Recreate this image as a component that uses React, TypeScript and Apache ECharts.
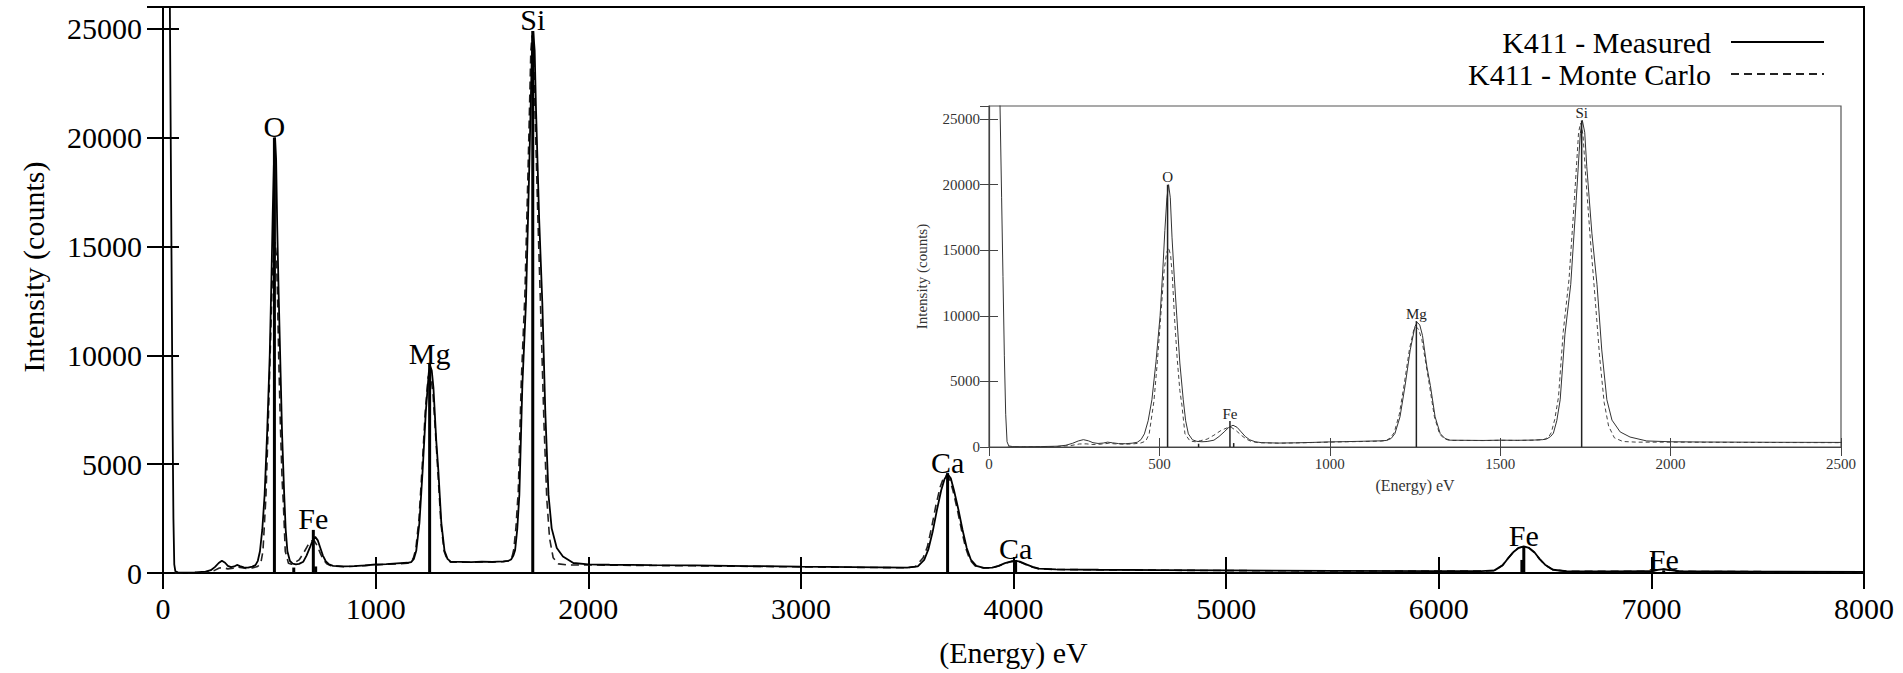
import React, { useEffect, useRef } from 'react';
import * as echarts from 'echarts';

// Measured spectrum: [energy eV, counts]
const measured: [number, number][] = [
  [0, 90000], [15, 60000], [25, 38000], [32, 26500], [37, 19000], [41, 13000], [45, 7000], [49, 2500], [53, 400], [58, 80],
  [70, 30], [100, 20], [150, 30], [200, 60], [225, 130], [245, 280], [262, 460], [277, 560], [292, 470], [305, 330],
  [320, 270], [335, 300], [348, 370], [362, 320], [380, 260], [400, 250], [420, 290], [435, 360], [446, 560], [456, 1000],
  [467, 2000], [478, 3600], [490, 6500], [502, 10000], [510, 13500], [516, 16500], [522, 19000], [527, 20000], [532, 19000], [537, 16000],
  [544, 12800], [551, 10000], [560, 6400], [570, 3600], [577, 2000], [585, 1000], [597, 550], [610, 430], [625, 400], [640, 420],
  [660, 520], [675, 800], [690, 1150], [703, 1480], [716, 1660], [728, 1500], [740, 1150], [752, 800], [765, 550], [781, 400],
  [800, 330], [850, 300], [900, 320], [950, 350], [1000, 390], [1050, 410], [1100, 440], [1150, 470], [1167, 500], [1180, 650],
  [1191, 1020], [1206, 2300], [1221, 4700], [1236, 7400], [1250, 9200], [1257, 9500], [1264, 9300], [1272, 8500], [1285, 6100], [1295, 4700],
  [1309, 2300], [1324, 1020], [1338, 650], [1353, 520], [1400, 510], [1450, 500], [1500, 520], [1550, 510], [1600, 530], [1625, 560],
  [1637, 620], [1648, 800], [1656, 1050], [1666, 2000], [1676, 3600], [1690, 8600], [1707, 12400], [1723, 18800], [1735, 23900], [1741, 24900],
  [1748, 24000], [1754, 21400], [1769, 16300], [1784, 12400], [1798, 7400], [1813, 3600], [1828, 2050], [1852, 1150], [1881, 760], [1930, 460],
  [2000, 400], [2100, 380], [2200, 370], [2300, 360], [2500, 350], [2750, 320], [3000, 290], [3250, 270], [3500, 250], [3550, 300],
  [3580, 600], [3600, 1100], [3620, 1900], [3640, 2900], [3660, 3800], [3675, 4300], [3690, 4550], [3705, 4350], [3720, 3800], [3740, 2950],
  [3760, 2000], [3780, 1150], [3800, 600], [3825, 330], [3860, 240], [3900, 250], [3930, 330], [3960, 450], [3990, 540], [4010, 560],
  [4030, 520], [4060, 400], [4090, 280], [4120, 200], [4200, 170], [4400, 150], [4700, 130], [5000, 120], [5500, 100], [6000, 90],
  [6200, 90], [6262, 120], [6300, 350], [6320, 600], [6350, 950], [6375, 1150], [6400, 1220], [6425, 1150], [6450, 950], [6474, 650],
  [6500, 380], [6537, 150], [6600, 80], [6800, 70], [7000, 80], [7020, 130], [7058, 180], [7090, 130], [7130, 80], [7500, 60], [8000, 50],
];

// Monte Carlo spectrum: [energy eV, counts]
const monteCarlo: [number, number][] = [
  [55, 0], [100, 10], [150, 20], [200, 40], [240, 110], [265, 230], [285, 240], [305, 190], [330, 220], [350, 280],
  [370, 240], [395, 210], [420, 230], [445, 300], [460, 450], [470, 1000], [484, 3500], [494, 6500], [504, 10000], [514, 13500],
  [521, 14800], [527, 15200], [533, 14600], [538, 13000], [544, 10000], [552, 6800], [560, 4300], [566, 3200], [575, 1000], [590, 450],
  [605, 400], [620, 480], [640, 600], [660, 900], [680, 1250], [700, 1480], [712, 1480], [725, 1250], [740, 900], [755, 600],
  [770, 420], [790, 330], [850, 290], [900, 310], [950, 340], [1000, 370], [1050, 400], [1100, 420], [1150, 450], [1165, 490],
  [1178, 700], [1189, 1100], [1204, 2500], [1219, 4900], [1234, 7500], [1247, 9000], [1253, 9150], [1260, 9000], [1270, 8200], [1283, 6200],
  [1293, 4600], [1307, 2300], [1322, 1000], [1336, 620], [1352, 500], [1400, 500], [1450, 490], [1500, 510], [1550, 500], [1600, 520],
  [1625, 560], [1632, 600], [1643, 800], [1650, 1100], [1660, 2100], [1671, 3800], [1685, 8800], [1702, 12800], [1718, 19000], [1730, 24000],
  [1736, 24700], [1743, 23800], [1750, 21000], [1764, 16000], [1778, 11500], [1792, 6800], [1805, 3400], [1818, 1600], [1835, 700], [1860, 420],
  [1900, 370], [2000, 370], [2200, 350], [2500, 330], [3000, 280], [3500, 240], [3540, 300], [3575, 700], [3595, 1200], [3615, 2100],
  [3635, 3100], [3655, 3950], [3670, 4350], [3685, 4500], [3700, 4300], [3715, 3800], [3735, 2950], [3755, 2000], [3775, 1150], [3795, 600],
  [3820, 320], [3860, 230], [3900, 240], [3930, 320], [3960, 440], [3990, 520], [4010, 540], [4030, 500], [4060, 380], [4090, 260],
  [4120, 190], [4200, 160], [4500, 140], [5000, 110], [5500, 95], [6000, 85], [6200, 85], [6262, 110], [6300, 360], [6320, 610],
  [6350, 960], [6375, 1150], [6400, 1210], [6425, 1140], [6450, 940], [6474, 640], [6500, 370], [6537, 150], [6600, 80], [7000, 75],
  [7020, 120], [7058, 170], [7090, 120], [7130, 75], [8000, 45],
];

// Characteristic line markers
const lineEnergies = [524, 615, 707, 718, 1254, 1739, 3690, 4010, 6391, 6400, 7058];
const lineHeights = [20000, 250, 1980, 300, 9600, 24900, 4590, 600, 600, 1220, 120];
const lineLabels = ['O', '', 'Fe', '', 'Mg', 'Si', 'Ca', 'Ca', '', 'Fe', 'Fe'];

const seriesNames = ['K411 - Measured', 'K411 - Monte Carlo'];
const mainXRange = [0, 8000, 1000];
const insetXRange = [0, 2500, 500];
const yRange = [0, 26000, 5000];

const FONT = '"Liberation Serif", "Times New Roman", serif';
const plain = (v: number) => String(v);

export default function App() {
  const ref = useRef<HTMLDivElement>(null);
  useEffect(() => {
    if (!ref.current) return;
    const chart = echarts.init(ref.current, undefined, { renderer: 'svg' });

    const lineData = lineEnergies.map((e, i) => ({ value: [e, lineHeights[i]], name: lineLabels[i] }));
    const insetLineData = lineData.filter((d) => (d.value[0] as number) <= insetXRange[1]);

    const mainTick = { show: true, inside: true, length: 16, lineStyle: { color: '#000', width: 2 } };
    const insetTick = { show: true, inside: true, length: 9, lineStyle: { color: '#444', width: 1 } };

    const option: any = {
      animation: false,
      textStyle: { fontFamily: FONT, color: '#000' },
      legend: {
        data: seriesNames,
        orient: 'vertical',
        align: 'right',
        right: 78,
        top: 27,
        padding: 0,
        itemWidth: 93,
        itemHeight: 14,
        itemGap: 2,
        itemStyle: { opacity: 0, color: 'transparent', borderColor: 'transparent', borderWidth: 0 },
        textStyle: { fontFamily: FONT, fontSize: 30, color: '#000', padding: [0, 15, 0, 0] },
      },
      grid: [
        { left: 163, right: 39, top: 7, bottom: 100, show: true, borderColor: '#000', borderWidth: 2, backgroundColor: 'transparent' },
        { left: 989, right: 62, top: 106, bottom: 226, show: true, borderColor: '#555', borderWidth: 1.2, backgroundColor: 'transparent' },
      ],
      xAxis: [
        {
          gridIndex: 0, type: 'value', min: mainXRange[0], max: mainXRange[1], interval: mainXRange[2], position: 'bottom',
          axisLine: { show: true, lineStyle: { color: '#000', width: 2 } },
          axisTick: mainTick,
          axisLabel: { fontFamily: FONT, fontSize: 30, color: '#000', margin: 20, formatter: plain },
          splitLine: { show: false },
          name: '(Energy) eV', nameLocation: 'middle', nameGap: 64,
          nameTextStyle: { fontFamily: FONT, fontSize: 30, color: '#000' },
        },
        {
          gridIndex: 0, type: 'value', min: mainXRange[0], max: mainXRange[1], interval: mainXRange[2], position: 'top',
          axisLine: { show: false }, axisTick: mainTick, axisLabel: { show: false }, splitLine: { show: false },
        },
        {
          gridIndex: 1, type: 'value', min: insetXRange[0], max: insetXRange[1], interval: insetXRange[2], position: 'bottom',
          axisLine: { show: true, lineStyle: { color: '#444', width: 1.2 } },
          axisTick: insetTick,
          axisLabel: { fontFamily: FONT, fontSize: 15, color: '#333', margin: 9, formatter: plain },
          splitLine: { show: false },
          name: '(Energy) eV', nameLocation: 'middle', nameGap: 30,
          nameTextStyle: { fontFamily: FONT, fontSize: 16, color: '#333' },
        },
        {
          gridIndex: 1, type: 'value', min: insetXRange[0], max: insetXRange[1], interval: insetXRange[2], position: 'top',
          axisLine: { show: false }, axisTick: insetTick, axisLabel: { show: false }, splitLine: { show: false },
        },
      ],
      yAxis: [
        {
          gridIndex: 0, type: 'value', min: yRange[0], max: yRange[1], interval: yRange[2], position: 'left',
          axisLine: { show: true, lineStyle: { color: '#000', width: 2 } },
          axisTick: mainTick,
          axisLabel: { fontFamily: FONT, fontSize: 30, color: '#000', margin: 21, showMaxLabel: false, formatter: plain },
          splitLine: { show: false },
          name: 'Intensity (counts)', nameLocation: 'middle', nameGap: 115,
          nameTextStyle: { fontFamily: FONT, fontSize: 30, color: '#000', padding: [0, 0, 0, 46] },
        },
        {
          gridIndex: 0, type: 'value', min: yRange[0], max: yRange[1], interval: yRange[2], position: 'right',
          axisLine: { show: false }, axisTick: mainTick, axisLabel: { show: false }, splitLine: { show: false },
        },
        {
          gridIndex: 1, type: 'value', min: yRange[0], max: yRange[1], interval: yRange[2], position: 'left',
          axisLine: { show: true, lineStyle: { color: '#444', width: 1.2 } },
          axisTick: insetTick,
          axisLabel: { fontFamily: FONT, fontSize: 15, color: '#333', margin: 9, showMaxLabel: false, formatter: plain },
          splitLine: { show: false },
          name: 'Intensity (counts)', nameLocation: 'middle', nameGap: 60,
          nameTextStyle: { fontFamily: FONT, fontSize: 15, color: '#333' },
        },
        {
          gridIndex: 1, type: 'value', min: yRange[0], max: yRange[1], interval: yRange[2], position: 'right',
          axisLine: { show: false }, axisTick: insetTick, axisLabel: { show: false }, splitLine: { show: false },
        },
      ],
      series: [
        {
          name: seriesNames[0], type: 'line', xAxisIndex: 0, yAxisIndex: 0, data: measured,
          symbol: 'none', lineStyle: { color: '#000', width: 1.8 }, itemStyle: { color: '#000' }, z: 3,
        },
        {
          name: seriesNames[1], type: 'line', xAxisIndex: 0, yAxisIndex: 0, data: monteCarlo,
          symbol: 'none', lineStyle: { color: '#222', width: 1.6, type: [8, 5] }, itemStyle: { color: '#222' }, z: 2,
        },
        {
          type: 'bar', xAxisIndex: 0, yAxisIndex: 0, data: lineData, barWidth: 3,
          itemStyle: { color: '#000' }, z: 4,
          label: { show: true, position: 'top', distance: -4, formatter: '{b}', fontFamily: FONT, fontSize: 30, color: '#000' },
        },
        {
          name: seriesNames[0], type: 'line', xAxisIndex: 2, yAxisIndex: 2, data: measured,
          symbol: 'none', lineStyle: { color: '#333', width: 1 }, itemStyle: { color: '#333' }, z: 3,
        },
        {
          name: seriesNames[1], type: 'line', xAxisIndex: 2, yAxisIndex: 2, data: monteCarlo,
          symbol: 'none', lineStyle: { color: '#444', width: 1, type: [4, 3] }, itemStyle: { color: '#444' }, z: 2,
        },
        {
          type: 'bar', xAxisIndex: 2, yAxisIndex: 2, data: insetLineData, barWidth: 1.5,
          itemStyle: { color: '#222' }, z: 4,
          label: { show: true, position: 'top', distance: 0, formatter: '{b}', fontFamily: FONT, fontSize: 15, color: '#222' },
        },
      ],
    };
    chart.setOption(option);
    return () => chart.dispose();
  }, []);
  return <div ref={ref} style={{ position: 'fixed', left: 0, top: 0, width: 1903, height: 673, background: '#fff' }} />;
}
